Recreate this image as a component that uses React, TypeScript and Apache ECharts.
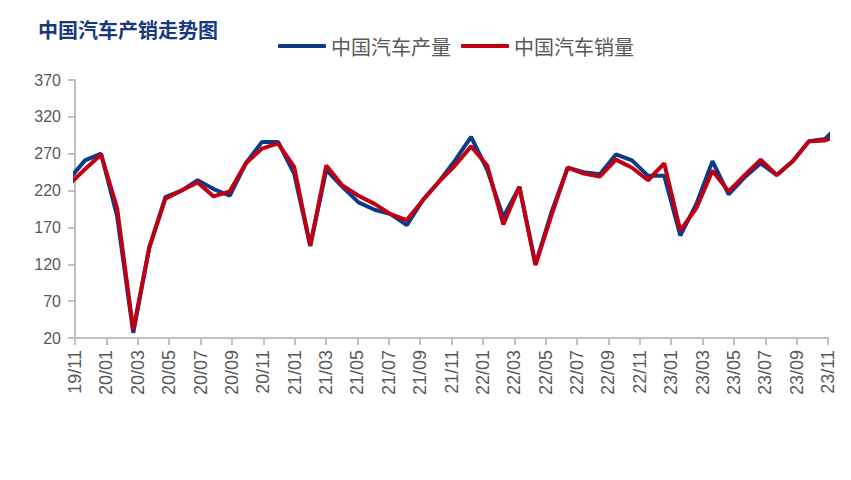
import React, { useEffect, useRef } from "react";
import * as echarts from "echarts";

const TITLE = "中国汽车产销走势图";
const SERIES_NAMES = ["中国汽车产量", "中国汽车销量"];

const months = [
  "19/11", "19/12",
  "20/01", "20/02", "20/03", "20/04", "20/05", "20/06", "20/07", "20/08", "20/09", "20/10", "20/11", "20/12",
  "21/01", "21/02", "21/03", "21/04", "21/05", "21/06", "21/07", "21/08", "21/09", "21/10", "21/11", "21/12",
  "22/01", "22/02", "22/03", "22/04", "22/05", "22/06", "22/07", "22/08", "22/09", "22/10", "22/11", "22/12",
  "23/01", "23/02", "23/03", "23/04", "23/05", "23/06", "23/07", "23/08", "23/09", "23/10", "23/11",
];

// 产量 (万辆)
const production = [
  235, 261, 270, 185, 27, 143, 211, 220, 234, 222, 213, 257, 286, 286, 243, 145, 248,
  225, 204, 194, 188, 173, 207, 232, 261, 293, 248, 184, 225, 120, 191, 251, 245,
  242, 269, 261, 240, 240, 159, 202, 260, 215, 238, 257, 241, 260, 287, 290, 312,
];

// 销量 (万辆)
const sales = [
  228, 249, 269, 196, 31, 143, 209, 220, 231, 212, 219, 257, 277, 284, 252, 145, 254,
  227, 213, 202, 188, 180, 207, 232, 254, 280, 254, 174, 225, 119, 187, 251, 243,
  239, 262, 251, 234, 257, 166, 196, 247, 219, 241, 262, 241, 260, 287, 288, 297,
];

const yTicks = { min: 20, max: 370, interval: 50 };

// the data line is drawn on its own (hidden) scale, slightly wider than the label axis
const DATA_X_MIN = 0.38;
const DATA_X_MAX = 47.18;

const BLUE = "#0c3c89";
const RED = "#c00012";
const AXIS_GRAY = "#bfbfbf";
const TEXT_GRAY = "#595959";

export default function App() {
  const ref = useRef<HTMLDivElement>(null);

  useEffect(() => {
    if (!ref.current) return;
    const chart = echarts.init(ref.current, null, { renderer: "svg" });
    chart.setOption({
      animation: false,
      backgroundColor: "#ffffff",
      title: {
        text: TITLE,
        left: 33,
        top: 14,
        textStyle: {
          fontSize: 20,
          fontWeight: "bold",
          color: "#17397f",
          fontFamily: "Noto Sans CJK SC",
        },
      },
      legend: {
        left: 273,
        top: 31,
        icon: "roundRect",
        itemWidth: 48,
        itemHeight: 4,
        itemGap: 10,
        data: SERIES_NAMES,
        textStyle: {
          fontSize: 20,
          color: TEXT_GRAY,
          fontFamily: "Noto Sans CJK SC",
        },
      },
      grid: { left: 75, right: 23, top: 80, bottom: 142 },
      xAxis: [
        {
          type: "category",
          data: months,
          boundaryGap: false,
          axisLine: { lineStyle: { color: AXIS_GRAY, width: 2 } },
          axisTick: { interval: 1, length: 7, lineStyle: { color: AXIS_GRAY, width: 2 } },
          axisLabel: {
            interval: 1,
            rotate: 90,
            margin: 12,
            fontSize: 18,
            color: TEXT_GRAY,
            fontFamily: "Liberation Sans",
          },
          splitLine: { show: false },
        },
        {
          type: "value",
          show: false,
          min: DATA_X_MIN,
          max: DATA_X_MAX,
          splitLine: { show: false },
        },
      ],
      yAxis: {
        type: "value",
        min: yTicks.min,
        max: yTicks.max,
        interval: yTicks.interval,
        axisLine: { show: true, lineStyle: { color: AXIS_GRAY, width: 2 } },
        axisTick: { show: true, length: 7, lineStyle: { color: AXIS_GRAY, width: 2 } },
        axisLabel: {
          fontSize: 16,
          color: TEXT_GRAY,
          margin: 14,
          fontFamily: "Liberation Sans",
        },
        splitLine: { show: false },
      },
      series: [
        {
          name: SERIES_NAMES[0],
          type: "line",
          xAxisIndex: 1,
          data: production.map((v, j) => [j, v]),
          symbol: "none",
          showSymbol: false,
          clip: true,
          lineStyle: { width: 4, color: BLUE },
          itemStyle: { color: BLUE },
        },
        {
          name: SERIES_NAMES[1],
          type: "line",
          xAxisIndex: 1,
          data: sales.map((v, j) => [j, v]),
          symbol: "none",
          showSymbol: false,
          clip: true,
          lineStyle: { width: 4, color: RED },
          itemStyle: { color: RED },
        },
      ],
    });
    return () => chart.dispose();
  }, []);

  return (
    <div
      ref={ref}
      style={{ position: "fixed", left: 0, top: 0, width: 851, height: 480, background: "#fff" }}
    />
  );
}
